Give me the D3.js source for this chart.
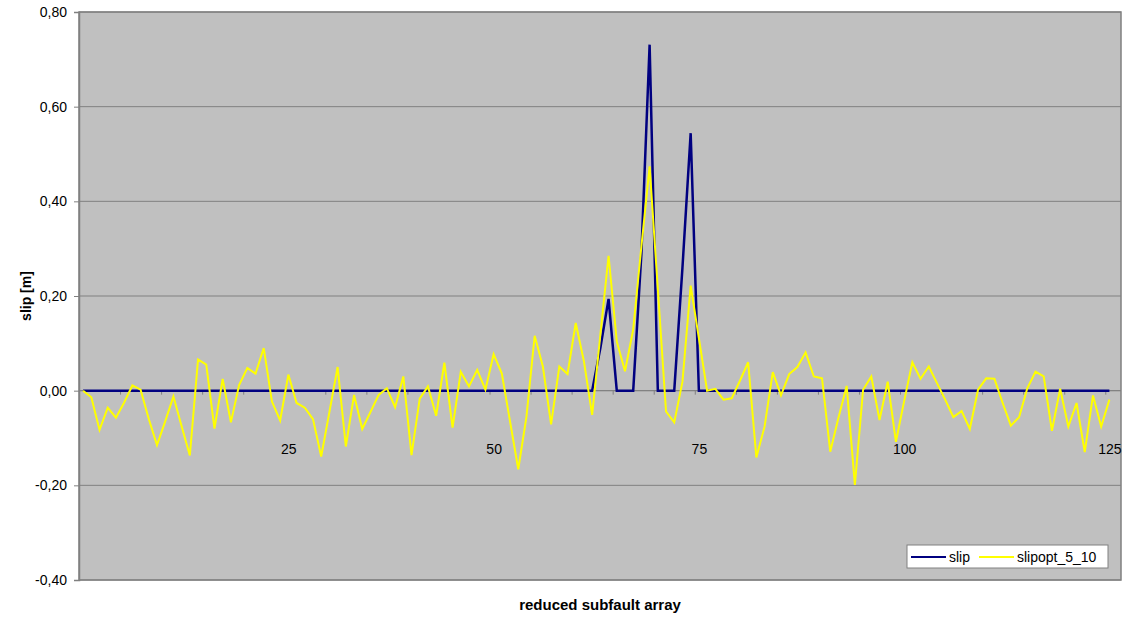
<!DOCTYPE html>
<html>
<head>
<meta charset="utf-8">
<script src="https://cdn.jsdelivr.net/npm/d3@7"></script>
<style>
  body { margin: 0; background: #fff; }
  svg { display: block; font-family: "Liberation Sans", Arial, sans-serif; }
</style>
</head>
<body>
<svg id="chart" width="1132" height="619"></svg>
<script>
// subfault index 0..125 (one value per subfault)
const slip = [
  0, 0, 0, 0, 0, 0, 0, 0, 0, 0,
  0, 0, 0, 0, 0, 0, 0, 0, 0, 0,
  0, 0, 0, 0, 0, 0, 0, 0, 0, 0,
  0, 0, 0, 0, 0, 0, 0, 0, 0, 0,
  0, 0, 0, 0, 0, 0, 0, 0, 0, 0,
  0, 0, 0, 0, 0, 0, 0, 0, 0, 0,
  0, 0, 0, 0.09, 0.194, 0, 0, 0, 0.29, 0.731,
  0, 0, 0, 0.26, 0.544, 0, 0, 0, 0, 0,
  0, 0, 0, 0, 0, 0, 0, 0, 0, 0,
  0, 0, 0, 0, 0, 0, 0, 0, 0, 0,
  0, 0, 0, 0, 0, 0, 0, 0, 0, 0,
  0, 0, 0, 0, 0, 0, 0, 0, 0, 0,
  0, 0, 0, 0, 0, 0
]

const slipopt = [
  0.0, -0.014, -0.083, -0.036, -0.057, -0.025, 0.011, 0.002, -0.060, -0.115,
  -0.065, -0.012, -0.075, -0.137, 0.066, 0.055, -0.080, 0.025, -0.067, 0.012,
  0.048, 0.036, 0.090, -0.023, -0.063, 0.034, -0.026, -0.036, -0.060, -0.139,
  -0.045, 0.050, -0.118, -0.009, -0.081, -0.045, -0.009, 0.005, -0.035, 0.030,
  -0.136, -0.017, 0.009, -0.053, 0.059, -0.078, 0.040, 0.009, 0.044, 0.002,
  0.077, 0.036, -0.065, -0.166, -0.055, 0.116, 0.051, -0.071, 0.051, 0.035,
  0.143, 0.062, -0.051, 0.118, 0.285, 0.104, 0.041, 0.129, 0.305, 0.474,
  0.215, -0.044, -0.067, 0.019, 0.222, 0.111, 0.0, 0.004, -0.019, -0.016,
  0.021, 0.060, -0.141, -0.076, 0.039, -0.010, 0.035, 0.050, 0.081, 0.030,
  0.026, -0.129, -0.057, 0.010, -0.199, 0.002, 0.030, -0.062, 0.019, -0.108,
  -0.022, 0.060, 0.025, 0.051, 0.016, -0.019, -0.056, -0.043, -0.081, 0.002,
  0.026, 0.025, -0.026, -0.074, -0.056, 0.005, 0.040, 0.030, -0.085, 0.004,
  -0.076, -0.026, -0.130, -0.010, -0.076, -0.019
]

const yTicks = [-0.4, -0.2, 0, 0.2, 0.4, 0.6, 0.8]
const xLabels = [25, 50, 75, 100, 125]
const xTickStep = 5
const seriesNames = ['slip', 'slipopt_5_10']
const seriesColors = ['#000080', '#ffff00']

const plot = {left: 79, top: 12, right: 1121, bottom: 580}
const bandEnd = 1113.5

const locale = d3.formatLocale({decimal: ',', thousands: '.', grouping: [3], currency: ['', ''], minus: '-'})
const fmt = locale.format('.2f')

const svg = d3.select('#chart')

const x = d3.scaleLinear()
  .domain([-0.5, slip.length - 0.5])
  .range([plot.left, bandEnd])

const y = d3.scaleLinear()
  .domain([-0.4, 0.8])
  .range([plot.bottom, plot.top])

// plot area
svg.append('rect')
  .attr('x', plot.left)
  .attr('y', plot.top)
  .attr('width', plot.right - plot.left)
  .attr('height', plot.bottom - plot.top)
  .attr('fill', '#c0c0c0')

// gridlines
svg.append('g')
  .selectAll('line')
  .data(yTicks)
  .join('line')
    .attr('x1', plot.left)
    .attr('x2', plot.right)
    .attr('y1', d => y(d))
    .attr('y2', d => y(d))
    .attr('stroke', '#808080')
    .attr('stroke-width', 1)

// plot border
svg.append('rect')
  .attr('x', plot.left)
  .attr('y', plot.top)
  .attr('width', plot.right - plot.left)
  .attr('height', plot.bottom - plot.top)
  .attr('fill', 'none')
  .attr('stroke', '#808080')
  .attr('stroke-width', 1.5)

// y axis
svg.append('g')
  .attr('transform', `translate(${plot.left}, 0)`)
  .call(d3.axisLeft(y).tickValues(yTicks).tickFormat(fmt).tickSize(5).tickPadding(7))
  .call(g => g.select('.domain').attr('stroke', '#808080').attr('stroke-width', 1.5))
  .call(g => g.selectAll('.tick line').attr('stroke', '#808080'))
  .call(g => g.selectAll('text').attr('font-size', 14).attr('fill', '#000')
    .attr('font-family', '"Liberation Sans", Arial, sans-serif'))

// x axis at y = 0: tick marks between categories
const boundaries = []
for (let i = xTickStep; i < slip.length; i += xTickStep) boundaries.push(i - 0.5)

svg.append('g')
  .attr('transform', `translate(0, ${y(0)})`)
  .call(d3.axisBottom(x).tickValues(boundaries).tickFormat('').tickSize(4).tickSizeOuter(0))
  .call(g => g.select('.domain').attr('stroke', '#808080').attr('d', `M${plot.left},0H${plot.right}`))
  .call(g => g.selectAll('.tick line').attr('stroke', '#808080'))

svg.append('g')
  .attr('transform', `translate(0, ${y(0)})`)
  .call(d3.axisBottom(x).tickValues(xLabels).tickSize(0).tickPadding(53))
  .call(g => g.select('.domain').remove())
  .call(g => g.selectAll('text').attr('font-size', 14).attr('fill', '#000')
    .attr('font-family', '"Liberation Sans", Arial, sans-serif'))

// series
const line = d3.line()
  .x((d, i) => x(i))
  .y(d => y(d))

const series = [slip, slipopt]
svg.append('g')
  .selectAll('path')
  .data(series)
  .join('path')
    .attr('d', d => line(d))
    .attr('fill', 'none')
    .attr('stroke', (d, i) => seriesColors[i])
    .attr('stroke-width', (d, i) => i === 0 ? 2.5 : 2)
    .attr('stroke-linejoin', 'miter')

// axis titles
svg.append('text')
  .attr('x', (plot.left + plot.right) / 2)
  .attr('y', 610)
  .attr('text-anchor', 'middle')
  .attr('font-size', 15)
  .attr('font-weight', 'bold')
  .text('reduced subfault array')

svg.append('text')
  .attr('transform', `translate(31, ${(plot.top + plot.bottom) / 2}) rotate(-90)`)
  .attr('text-anchor', 'middle')
  .attr('font-size', 14)
  .attr('font-weight', 'bold')
  .text('slip [m]')

// legend
const legend = svg.append('g').attr('transform', 'translate(907, 545)')
legend.append('rect')
  .attr('width', 201)
  .attr('height', 23)
  .attr('fill', '#fff')
  .attr('stroke', '#808080')

const items = legend.selectAll('g.item')
  .data(seriesNames)
  .join('g')
    .attr('class', 'item')
    .attr('transform', (d, i) => `translate(${i === 0 ? 4 : 72}, 12)`)

items.append('line')
  .attr('x1', 0)
  .attr('x2', 35)
  .attr('stroke', (d, i) => seriesColors[i])
  .attr('stroke-width', 2)

items.append('text')
  .attr('x', 38)
  .attr('dy', '0.35em')
  .attr('font-size', 14)
  .text(d => d)
</script>
</body>
</html>
